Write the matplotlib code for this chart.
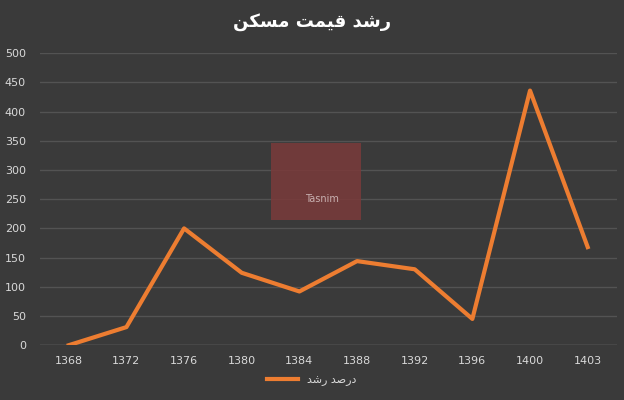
import matplotlib.pyplot as plt
from matplotlib.patches import Rectangle

# سال‌ها و درصد رشد قیمت مسکن
years = ['1368', '1372', '1376', '1380', '1384', '1388', '1392', '1396', '1400', '1403']
growth = [0, 31, 200, 124, 92, 144, 130, 45, 436, 168]
y_ticks = [0, 50, 100, 150, 200, 250, 300, 350, 400, 450, 500]

# matplotlib does no Arabic shaping, so the text is given in presentation forms, visual order
title_text = '\uFEE6\uFEDC\uFEB4\uFEE3 \uFE96\uFEE4\uFEF4\uFED7 \uFEAA\uFEB7\uFEAD'  # رشد قیمت مسکن
legend_text = '\uFEAA\uFEB7\uFEAD \uFEAA\uFEBB\uFEAD\uFEA9'  # درصد رشد

bg = '#3a3a3a'
txt = '#d9d9d9'

fig = plt.figure(figsize=(6.24, 4.0), dpi=100, facecolor=bg)
ax = fig.add_axes([0.064, 0.137, 0.924, 0.73])
ax.set_facecolor(bg)

x = range(len(years))
ax.plot(x, growth, color='#ED7D31', lw=3, solid_joinstyle='round', zorder=3, label=legend_text)

ax.set_xlim(-0.5, len(years) - 0.5)
ax.set_ylim(0, 500)
ax.set_xticks(list(x))
ax.set_xticklabels(years)
ax.set_yticks(y_ticks)
ax.tick_params(colors=txt, labelsize=8, length=0, pad=8)
ax.tick_params(axis='y', pad=10)
for lab in ax.get_xticklabels() + ax.get_yticklabels():
    lab.set_color(txt)
ax.grid(axis='y', color='#535353', lw=1)
ax.set_axisbelow(True)
for s in ax.spines.values():
    s.set_visible(False)
ax.axhline(0, color='#6e6e6e', lw=1, zorder=2)

# watermark block
ax.add_patch(Rectangle((3.5, 214), 1.56, 132, facecolor='#7a3a3a', edgecolor='none',
                       alpha=0.85, zorder=1))
ax.text(4.4, 245, 'Tasnim', color='#c8b0b0', fontsize=7, ha='center', zorder=1)

fig.text(0.5, 0.945, title_text, ha='center', va='center', color='white',
         fontsize=13, fontweight='bold', family='DejaVu Sans')

leg = fig.legend(loc='lower center', bbox_to_anchor=(0.5, 0.01), frameon=False,
                 handlelength=2.8, prop={'family': 'DejaVu Sans', 'size': 8})
for t in leg.get_texts():
    t.set_color(txt)

fig.savefig('out.png', dpi=100, facecolor=bg)
